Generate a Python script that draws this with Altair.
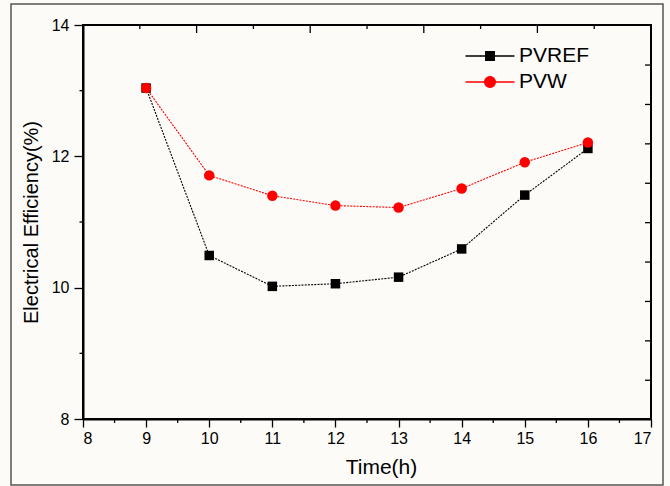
import altair as alt
import pandas as pd

# ---- data ----
hours = [9, 10, 11, 12, 13, 14, 15, 16]
pvref = [13.04, 10.49, 10.02, 10.06, 10.16, 10.59, 11.41, 12.12]
pvw = [13.04, 11.71, 11.40, 11.25, 11.22, 11.51, 11.91, 12.21]
series_names = ["PVREF", "PVW"]
series_colors = ["#000000", "#ff0000"]

x_ticks = [8, 9, 10, 11, 12, 13, 14, 15, 16, 17]
y_ticks = [8, 10, 12, 14]
x_minor = [8.5, 9.5, 10.5, 11.5, 12.5, 13.5, 14.5, 15.5, 16.5]
y_minor = [9, 11, 13]
top_major = [9.8, 11.6, 13.4, 15.2]
top_minor = [8.9, 10.7, 12.5, 14.3, 16.1]
right_ticks = [8.59, 9.19, 9.79, 10.39, 10.99, 11.59, 12.19, 12.79, 13.39]

W, H = 568, 394
FONT = "Liberation Sans"

df = pd.DataFrame({
    "Time": hours * 2,
    "Eff": pvref + pvw,
    "Series": [series_names[0]] * len(hours) + [series_names[1]] * len(hours),
})

xs = alt.Scale(domain=[8, 17], nice=False, zero=False)
ys = alt.Scale(domain=[8, 14], nice=False, zero=False)
cs = alt.Scale(domain=series_names, range=series_colors)

x_enc = alt.X("Time:Q", scale=xs, axis=alt.Axis(
    values=x_ticks, format="d", title="Time(h)", tickSize=8, tickWidth=1.3,
    domainWidth=2, labelFontSize=16, labelPadding=3, titleFontSize=21,
    titleFontWeight="normal", titlePadding=10, titleX=298, grid=False))
y_enc = alt.Y("Eff:Q", scale=ys, axis=alt.Axis(
    values=y_ticks, format="d", title="Electrical Efficiency(%)", tickSize=9,
    tickWidth=1.3, domainWidth=2, labelFontSize=16, labelPadding=5,
    titleFontSize=20, titleFontWeight="normal", titlePadding=10, grid=False))

base = alt.Chart(df)

# legend symbols: a line with the series marker in the middle
sq_path = "M-2,0H2M-0.35,-0.35H0.35V0.35H-0.35Z"
ci_path = "M-2,0H2M0.44,0A0.44,0.44 0 1,1 -0.44,0A0.44,0.44 0 1,1 0.44,0Z"
shape_expr = "datum.value === '%s' ? '%s' : '%s'" % (series_names[1], ci_path, sq_path)

legend = alt.Legend(
    title=None, orient="none", legendX=394, legendY=18,
    labelFontSize=21, labelFont=FONT, labelColor="#000",
    symbolType=alt.ExprRef(expr=shape_expr), symbolSize=600, symbolStrokeWidth=1.3,
    labelOffset=16, rowPadding=3, padding=0,
)

lines = base.mark_line(strokeWidth=1.1, strokeDash=[2, 1.2]).encode(
    x=x_enc, y=y_enc,
    color=alt.Color("Series:N", scale=cs, legend=legend),
    detail="Series:N",
)

squares = base.transform_filter(alt.datum.Series == series_names[0]).mark_point(
    shape="square", filled=True, size=90, opacity=1).encode(
    x=alt.X("Time:Q", scale=xs), y=alt.Y("Eff:Q", scale=ys),
    color=alt.Color("Series:N", scale=cs, legend=None))

circles = base.transform_filter(alt.datum.Series == series_names[1]).mark_point(
    shape="circle", filled=True, size=110, opacity=1).encode(
    x=alt.X("Time:Q", scale=xs), y=alt.Y("Eff:Q", scale=ys),
    color=alt.Color("Series:N", scale=cs, legend=None))

# minor / mirrored ticks
xminor = alt.Chart(pd.DataFrame({"t": x_minor})).mark_rule(color="black", strokeWidth=1.3).encode(
    x=alt.X("t:Q", scale=xs), y=alt.value(H), y2=alt.value(H + 4))
yminor = alt.Chart(pd.DataFrame({"t": y_minor})).mark_rule(color="black", strokeWidth=1.3).encode(
    y=alt.Y("t:Q", scale=ys), x=alt.value(-3.5), x2=alt.value(0))
topmaj = alt.Chart(pd.DataFrame({"t": top_major})).mark_rule(color="black", strokeWidth=1.3).encode(
    x=alt.X("t:Q", scale=xs), y=alt.value(0), y2=alt.value(8))
topmin = alt.Chart(pd.DataFrame({"t": top_minor})).mark_rule(color="black", strokeWidth=1.3).encode(
    x=alt.X("t:Q", scale=xs), y=alt.value(0), y2=alt.value(4))
rticks = alt.Chart(pd.DataFrame({"t": right_ticks})).mark_rule(color="black", strokeWidth=1.3).encode(
    y=alt.Y("t:Q", scale=ys), x=alt.value(W - 6), x2=alt.value(W))

frame = alt.Chart(pd.DataFrame({"a": [0]})).mark_rect(
    fill=None, stroke="#555555", strokeWidth=1.5).encode(
    x=alt.value(-72), x2=alt.value(580), y=alt.value(-21), y2=alt.value(460))

chart = alt.layer(
    frame, xminor, yminor, topmaj, topmin, rticks, lines, squares, circles
).properties(
    width=W, height=H,
    padding={"left": 83, "top": 25, "right": 19, "bottom": 67},
    autosize=alt.AutoSizeParams(type="none"),
    background="#fcfbf7",
).configure_view(
    stroke="black", strokeWidth=2,
).configure_axis(
    labelFont=FONT, titleFont=FONT, labelColor="#000", titleColor="#000",
    domainColor="#000", tickColor="#000",
)

chart.save("out.html", embed_options={"renderer": "svg", "actions": False})
